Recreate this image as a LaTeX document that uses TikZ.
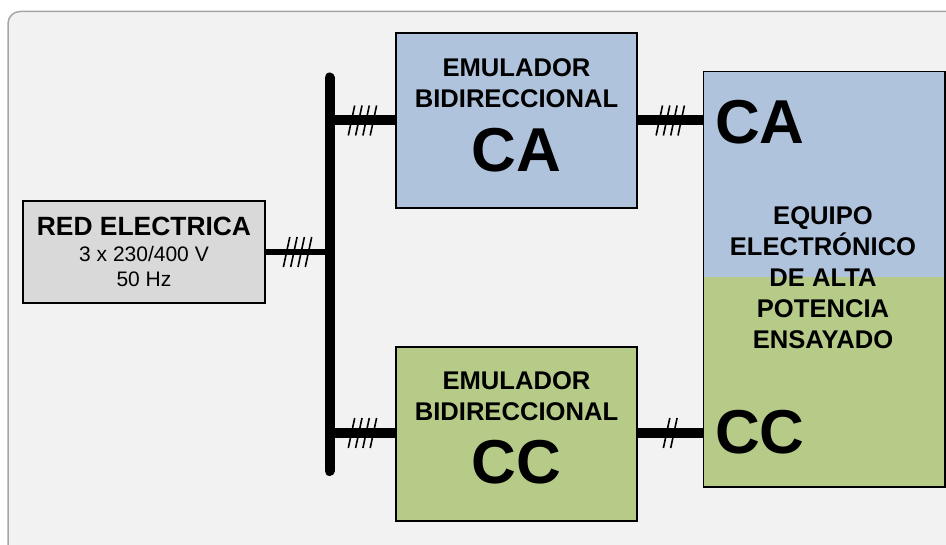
\documentclass[tikz,border=0pt]{standalone}
\usepackage{fontspec}
\setmainfont{Liberation Sans}
\usetikzlibrary{calc}
\definecolor{bgfill}{HTML}{F2F2F2}
\definecolor{bgline}{HTML}{A6A6A6}
\definecolor{boxgray}{HTML}{D9D9D9}
\definecolor{boxblue}{HTML}{B0C3DC}
\definecolor{boxgreen}{HTML}{B6CB87}
\tikzset{
  blk/.style={draw=black, line width=1.2pt, rectangle, inner sep=0pt},
  wire/.style={line width=10pt},
  thinwire/.style={line width=6pt},
  tickline/.style={line width=1.6pt},
  mid/.style={font=\fontsize{25.6}{31}\selectfont\bfseries, inner sep=0pt},
  redtitle/.style={font=\fontsize{26.4}{31}\selectfont\bfseries, inner sep=0pt},
  small/.style={font=\fontsize{21}{24}\selectfont, inner sep=0pt},
  big/.style={font=\fontsize{62}{70}\selectfont\bfseries, inner sep=0pt},
}
\newcommand\tickmarks[2]{%
  \foreach \k in {1,...,#2}
    \draw[tickline] ($(#1)+({(\k-(#2+1)/2)*7.3-3.2},15)$) -- ++(6.4,-30);}
\begin{document}
\begin{tikzpicture}[x=1pt,y=-1pt]
\useasboundingbox (0,0) rectangle (946,545);
\begin{scope}
  \clip (0,0) rectangle (946,545);
  \draw[fill=bgfill, draw=bgline, line width=1.5pt, rounded corners=12pt] (8,11.5) rectangle (990,590);
\end{scope}

% boxes
\node[blk, fill=boxgray, minimum width=242pt, minimum height=102pt] (red) at (144,252) {};
\node[blk, fill=boxblue, minimum width=241pt, minimum height=175pt] (emuA) at (516.5,120.5) {};
\node[blk, fill=boxgreen, minimum width=241pt, minimum height=174pt] (emuC) at (516.5,434) {};
\fill[boxblue] (703.5,71.5) rectangle (945,277.5);
\fill[boxgreen] (703.5,277.5) rectangle (945,487);
\node[blk, minimum width=241.5pt, minimum height=415.5pt] (eq) at (824.25,279.25) {};

% texts
\node[redtitle] (redT) at (144,226) {RED ELECTRICA};
\node[small] (redV) at (144,254) {3 x 230/400 V};
\node[small] (redF) at (144,279) {50 Hz};

\node[mid] (aT1) at (516.5,68) {EMULADOR};
\node[mid] (aT2) at (516.5,99) {BIDIRECCIONAL};
\node[big] (aT3) at (516.5,150) {CA};

\node[mid] (cT1) at (516.5,381) {EMULADOR};
\node[mid] (cT2) at (516.5,412) {BIDIRECCIONAL};
\node[big] (cT3) at (516.5,462) {CC};

\node[big, anchor=west] (eqA) at (715,122) {CA};
\node[big, anchor=west] (eqC) at (715,432) {CC};
\node[mid, align=center] (eqT) at (823,277.5) {EQUIPO\\ELECTRÓNICO\\DE ALTA\\POTENCIA\\ENSAYADO};

% bus
\coordinate (busT) at (329.5,77.5);
\coordinate (busB) at (329.5,471);
\draw[line width=10pt, line cap=round] (busT) -- (busB);

% connectors
\draw[thinwire] (red.east) -- (red.east -| busT) coordinate[pos=0.5] (m1);
\draw[wire] (emuA.west) -- (emuA.west -| busT) coordinate[pos=0.5] (m2);
\draw[wire] ($(emuC.west)+(0,-1)$) coordinate (cw) -- (cw -| busT) coordinate[pos=0.5] (m3);
\draw[wire] (emuA.east) -- (emuA.east -| eq.west) coordinate[pos=0.5] (m4);
\draw[wire] ($(emuC.east)+(0,-1)$) coordinate (ce) -- (ce -| eq.west) coordinate[pos=0.5] (m5);

\tickmarks{m1}{4}
\tickmarks{m2}{4}
\tickmarks{m3}{4}
\tickmarks{m4}{4}
\tickmarks{m5}{2}
\end{tikzpicture}
\end{document}
